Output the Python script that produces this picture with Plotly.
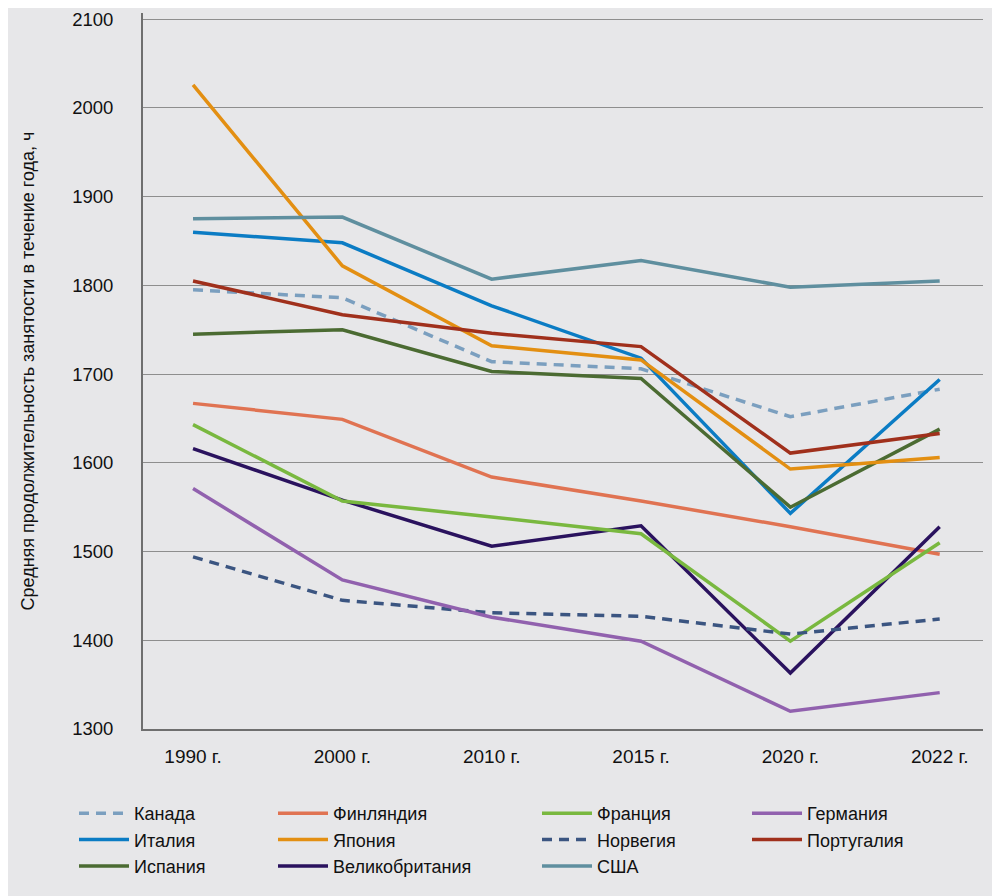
import plotly.graph_objects as go

years = ["1990 г.", "2000 г.", "2010 г.", "2015 г.", "2020 г.", "2022 г."]
y_ticks = [1300, 1400, 1500, 1600, 1700, 1800, 1900, 2000, 2100]

canada = [1795, 1786, 1714, 1706, 1652, 1683]
finland = [1667, 1649, 1584, 1557, 1528, 1497]
france = [1643, 1557, 1539, 1520, 1399, 1510]
germany = [1571, 1468, 1426, 1399, 1320, 1341]
italy = [1860, 1848, 1777, 1718, 1543, 1694]
japan = [2026, 1822, 1732, 1716, 1593, 1606]
norway = [1494, 1445, 1431, 1427, 1407, 1424]
portugal = [1805, 1767, 1746, 1731, 1611, 1633]
spain = [1745, 1750, 1703, 1695, 1550, 1638]
uk = [1616, 1558, 1506, 1529, 1363, 1528]
usa = [1875, 1877, 1807, 1828, 1798, 1805]

series = [
    ("Канада", canada, "#7b9fbf", "10px,7px", "legend"),
    ("Италия", italy, "#0b7cc4", "solid", "legend"),
    ("Испания", spain, "#4b6b32", "solid", "legend"),
    ("Финляндия", finland, "#e07352", "solid", "legend2"),
    ("Япония", japan, "#e38f12", "solid", "legend2"),
    ("Великобритания", uk, "#2a125e", "solid", "legend2"),
    ("Франция", france, "#79b83f", "solid", "legend3"),
    ("Норвегия", norway, "#3b5581", "10px,7px", "legend3"),
    ("США", usa, "#5f8f9f", "solid", "legend3"),
    ("Германия", germany, "#9161ae", "solid", "legend4"),
    ("Португалия", portugal, "#a0301c", "solid", "legend4"),
]

x_idx = list(range(len(years)))
fig = go.Figure()
for name, vals, color, dash, leg in series:
    fig.add_trace(go.Scatter(
        x=x_idx, y=vals, name=name, mode="lines",
        line=dict(color=color, width=3.5, dash=dash),
        legend=leg,
    ))

BG = "#e7e7e9"
FONT = "Liberation Sans, Arial, sans-serif"
OFF = 8  # page body offset
# plot area in screen pixels: left 143, right 983, top 13, bottom 729
ML, MT = 143 - OFF, 13 - OFF
MR = 1000 - (983 - OFF)
MB = 896 - (729 - OFF)
PW = 1000 - ML - MR
PH = 896 - MT - MB


def px_x(px):
    return (px - OFF - ML) / PW


def px_y(py):
    return (896 - MB - (py - OFF)) / PH


leg_common = dict(
    xref="paper", yref="paper", xanchor="left", yanchor="top",
    orientation="v", bgcolor="rgba(0,0,0,0)", itemwidth=50,
    font=dict(family=FONT, size=18, color="#111111"),
    traceorder="normal",
)
row_top = px_y(795)
fig.update_layout(
    width=1000, height=896,
    paper_bgcolor=BG, plot_bgcolor=BG,
    margin=dict(l=ML, r=MR, t=MT, b=MB, autoexpand=False),
    font=dict(family=FONT, size=18, color="#111111"),
    showlegend=True,
    legend=dict(x=px_x(74), y=row_top, **leg_common),
    legend2=dict(x=px_x(273), y=row_top, **leg_common),
    legend3=dict(x=px_x(537), y=row_top, **leg_common),
    legend4=dict(x=px_x(747), y=row_top, **leg_common),
    xaxis=dict(
        range=[-0.335, 5.29], tickmode="array", tickvals=x_idx, ticktext=years,
        showgrid=False, zeroline=False, showline=True, linecolor="#6f6f6f", linewidth=1.5,
        ticks="", ticklabelstandoff=9, tickfont=dict(size=19),
    ),
    yaxis=dict(
        range=[1300, 2107], tickmode="array", tickvals=y_ticks,
        showgrid=True, gridcolor="#8e8e8e", gridwidth=1, zeroline=False,
        showline=True, linecolor="#6f6f6f", linewidth=2,
        ticks="", ticklabelstandoff=24, tickfont=dict(size=18.5),
        title=dict(text="Средняя продолжительность занятости в течение года, ч",
                   font=dict(size=18), standoff=33),
    ),
)

fig.write_html("out.html")
